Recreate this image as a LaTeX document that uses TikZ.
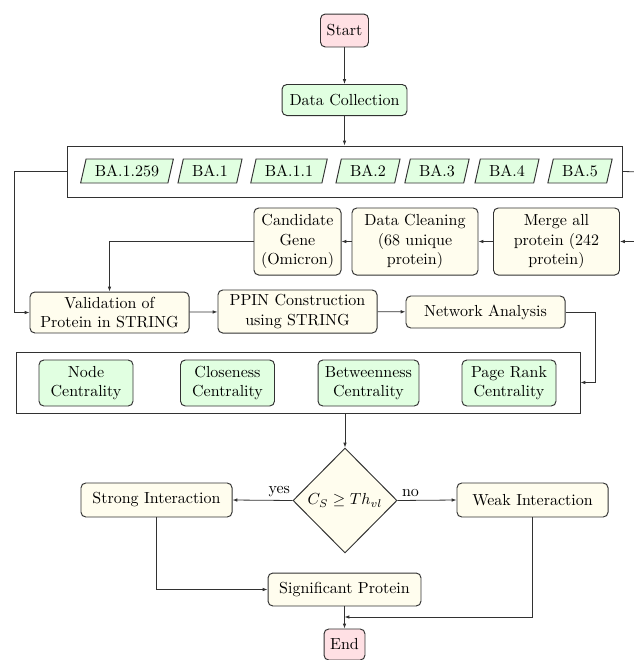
\documentclass[tikz,border=0pt]{standalone}
\usetikzlibrary{shapes.geometric,arrows.meta}
\definecolor{pinkfill}{RGB}{255,224,228}
\definecolor{greenfill}{RGB}{225,255,225}
\definecolor{creamfill}{RGB}{255,253,238}
\definecolor{edge}{RGB}{50,50,50}
\begin{document}
\begin{tikzpicture}[x=0.625pt,y=-0.625pt,
  base/.style={draw=edge,line width=0.6pt,rounded corners=3pt,align=center,inner sep=2pt,font=\normalsize},
  term/.style={base,fill=pinkfill},
  gbox/.style={base,fill=greenfill},
  cbox/.style={base,fill=creamfill},
  para/.style={trapezium,trapezium left angle=70,trapezium right angle=110,draw=edge,line width=0.6pt,fill=greenfill,minimum height=15pt,inner xsep=5.5pt,inner ysep=1pt,trapezium stretches=true},
  frame/.style={draw=edge,line width=0.6pt,fill=none},
  arr/.style={draw=edge,line width=0.5pt,-{Latex[length=3pt,width=2.2pt]}},
  ln/.style={draw=edge,line width=0.5pt}]
\useasboundingbox (0,0) rectangle (633,660);

\node[term,minimum width=30pt,minimum height=20.6pt] (start) at (344.5,30.5) {Start};
\node[gbox,minimum width=78.1pt,minimum height=19.4pt] (dc) at (344.5,100) {Data Collection};

\node[frame,minimum width=346.9pt,minimum height=31.9pt] (vbox) at (344.5,171.5) {};
\node[para] (p1) at (127,171) {BA.1.259};
\node[para] (p2) at (210,171) {BA.1};
\node[para] (p3) at (289,171) {BA.1.1};
\node[para] (p4) at (368,171) {BA.2};
\node[para] (p5) at (437,171) {BA.3};
\node[para] (p6) at (507,171) {BA.4};
\node[para] (p7) at (580,171) {BA.5};

\node[cbox,minimum width=78.75pt,minimum height=41.9pt] (merge) at (556.5,241.5) {Merge all\\protein (242\\protein)};
\node[cbox,minimum width=78.75pt,minimum height=41.9pt] (clean) at (415,241.5) {Data Cleaning\\(68 unique\\protein)};
\node[cbox,minimum width=54.4pt,minimum height=41.9pt] (cand) at (297.5,241.5) {Candidate\\Gene\\(Omicron)};

\node[cbox,minimum width=99.4pt,minimum height=25.6pt] (val) at (109.5,312.5) {Validation of\\Protein in STRING};
\node[cbox,minimum width=99.4pt,minimum height=26.9pt] (ppin) at (297.5,311.5) {PPIN Construction\\using STRING};
\node[cbox,minimum width=99.4pt,minimum height=20pt] (na) at (485.5,312) {Network Analysis};

\node[frame,minimum width=352.5pt,minimum height=38.1pt] (cbox2) at (298,382.5) {};
\node[gbox,minimum width=58.75pt,minimum height=28.75pt] (c1) at (86,383) {Node\\Centrality};
\node[gbox,minimum width=58.75pt,minimum height=28.75pt] (c2) at (227.5,383) {Closeness\\Centrality};
\node[gbox,minimum width=63.1pt,minimum height=28.75pt] (c3) at (368.5,383) {Betweenness\\Centrality};
\node[gbox,minimum width=58.75pt,minimum height=28.75pt] (c4) at (509,383) {Page Rank\\Centrality};

\node[diamond,draw=edge,line width=0.6pt,fill=creamfill,aspect=1,inner sep=0pt,minimum width=65pt,minimum height=65.6pt] (dec) at (345,500.5) {$C_S \geq Th_{vl}$};
\node[cbox,minimum width=94.4pt,minimum height=21.25pt] (strong) at (156.5,500) {Strong Interaction};
\node[cbox,minimum width=94.4pt,minimum height=21.25pt] (weak) at (532.5,500) {Weak Interaction};
\node[cbox,minimum width=95.6pt,minimum height=20.6pt] (sig) at (344.5,589.5) {Significant Protein};
\node[term,minimum width=25.6pt,minimum height=19.4pt] (end) at (344.5,644.5) {End};

\coordinate (lft) at (14,172);
\coordinate (rgt) at (645,172);
\coordinate (nar) at (595,312);
\coordinate (join) at (344.5,617);

\draw[arr] (start) -- (dc);
\draw[arr] (dc) -- (vbox);
\draw[arr] (vbox.west) -- (vbox.west -| lft) |- (val.west);
\draw[arr] (vbox.east) -- (rgt) |- (merge.east);
\draw[arr] (merge) -- (clean);
\draw[arr] (clean) -- (cand);
\draw[arr] (cand.west) -| (val.north);
\draw[arr] (val) -- (ppin);
\draw[arr] (ppin) -- (na);
\draw[arr] (na.east) -- (nar) |- (cbox2.east);
\draw[arr] (cbox2.south -| dec.north) -- (dec.north);
\draw[arr] (dec.west) -- node[above,pos=0.22,inner sep=2pt] {yes} (strong.east);
\draw[arr] (dec.east) -- node[above,pos=0.22,inner sep=2pt] {no} (weak.west);
\draw[arr] (strong.south) |- (sig.west);
\draw[arr] (sig.south) -- (end.north);
\draw[arr] (weak.south) |- (join);
\end{tikzpicture}
\end{document}
